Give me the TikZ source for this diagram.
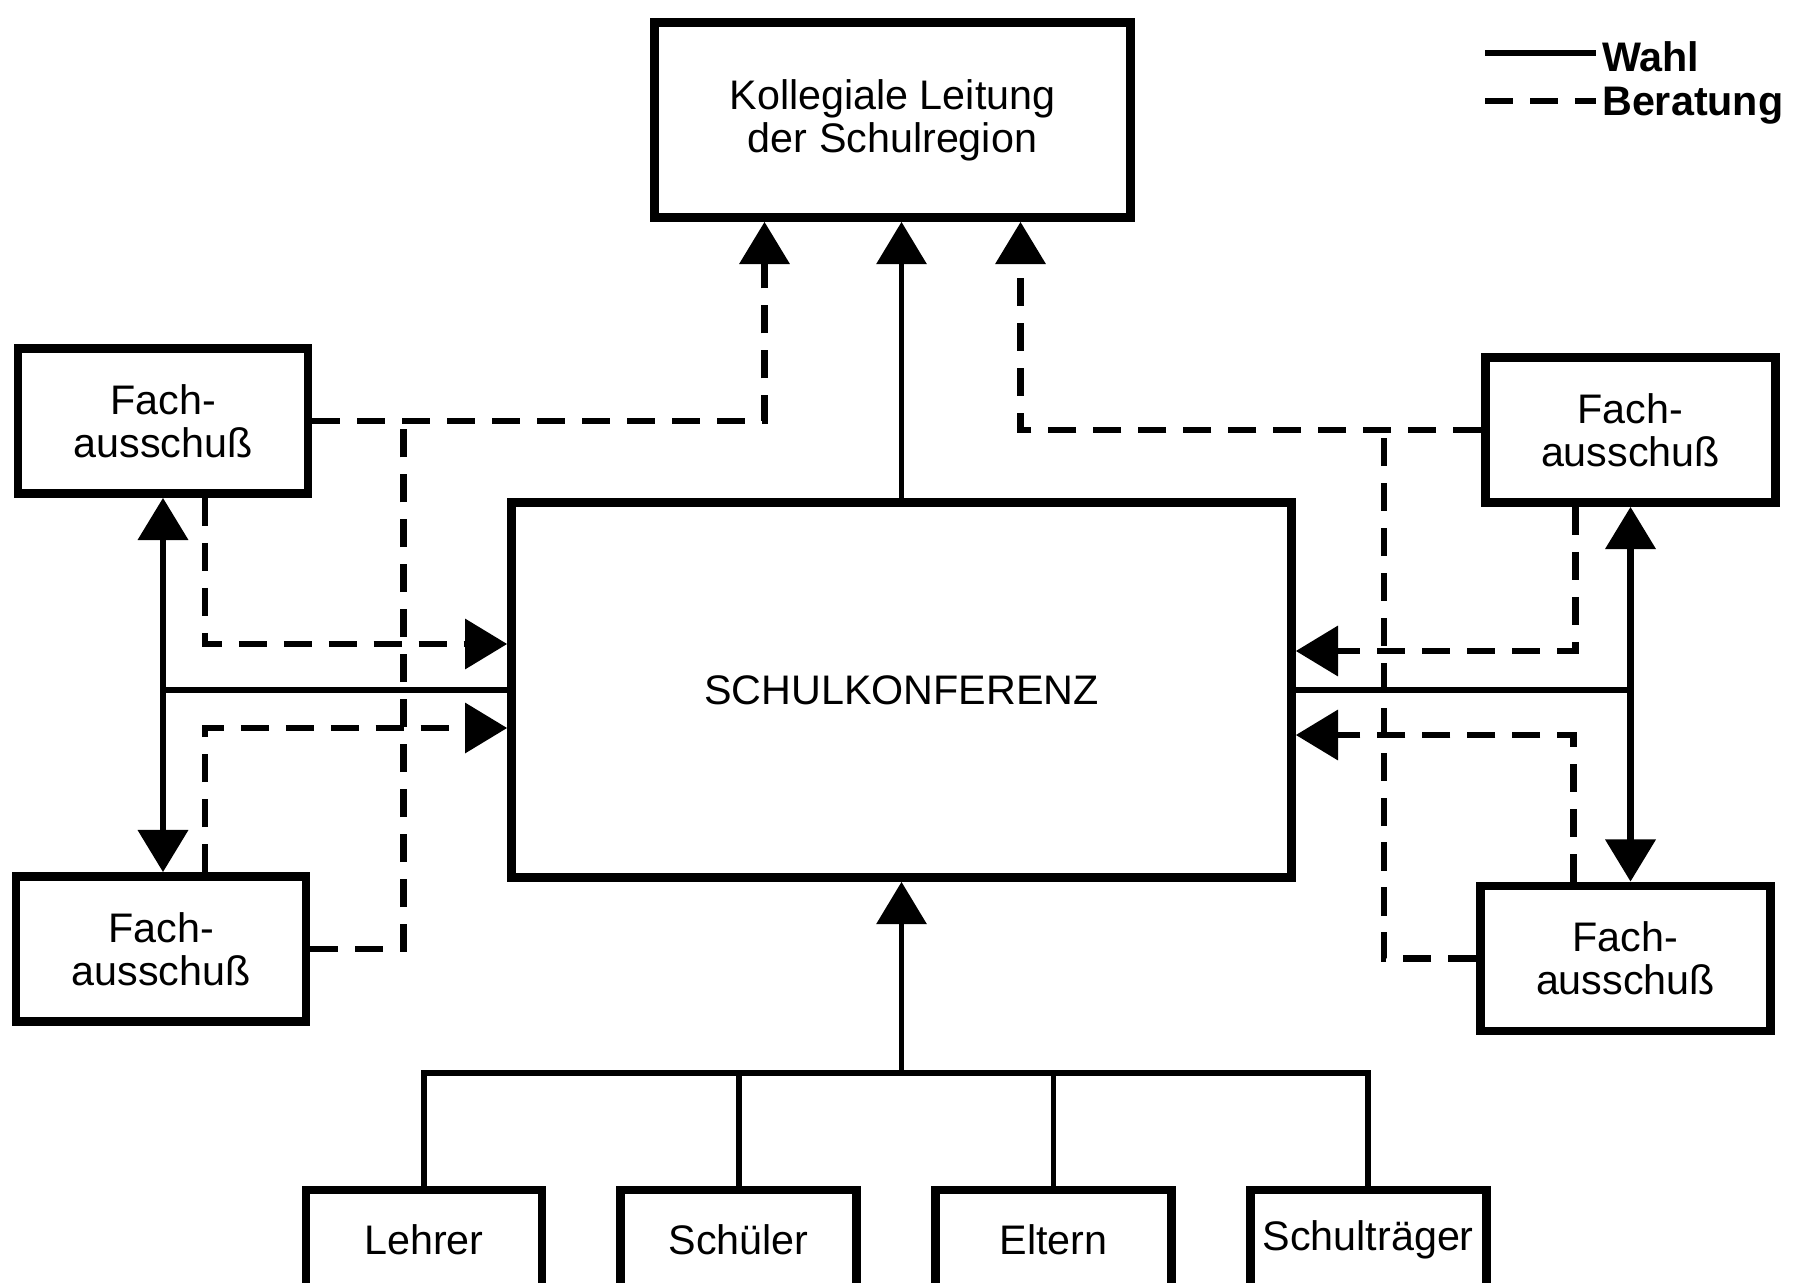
\documentclass[tikz,border=0pt]{standalone}
\usepackage{fontspec}
\setmainfont{Liberation Sans}
\usepackage{tikz}
\usetikzlibrary{arrows.meta, positioning, calc}
\definecolor{ink}{HTML}{000000}
\tikzset{
  % Organ boxes
  box/.style={
    rectangle, draw=ink, fill=white, line width=5pt,
    font=\fontsize{23.5}{24.5}\selectfont, align=center, inner sep=0pt,
  },
  fachbox/.style={box, minimum width=5.8cm, minimum height=2.9cm},
  groupbox/.style={box, minimum width=4.72cm, minimum height=2cm},
  % Election (solid)
  wahl/.style={line width=3.2pt, draw=ink},
  wahlarrow/.style={wahl, -{Triangle[length=24pt, width=28pt]}},
  wahlboth/.style={wahl, line width=3.8pt, {Triangle[length=24pt, width=28pt]}-{Triangle[length=24pt, width=28pt]}},
  % Consulting (dashed)
  beratung/.style={line width=3.6pt, draw=ink, dash pattern=on 16pt off 9.6pt},
  beratungarrow/.style={beratung, -{Triangle[length=24pt, width=28pt]}},
  % Legend
  legendtext/.style={font=\fontsize{23.5}{24.5}\selectfont\bfseries, anchor=west},
}

\begin{document}
\begin{tikzpicture}[x=0.02cm, y=-0.02cm]
  \path[use as bounding box, fill=white] (0,0) rectangle (1801,1283);

  % Regional board
  \node[box, minimum width=9.52cm, minimum height=3.9cm] (leitung) at (892.5,120)
    {Kollegiale Leitung\\der Schulregion};

  % School conference
  \node[box, minimum width=15.6cm, minimum height=7.5cm] (konferenz) at (901.5,690)
    {SCHULKONFERENZ};

  % Subject committees
  \node[fachbox] (fachTL) at (163,421) {Fach-\\ausschuß};
  \node[fachbox] (fachBL) at (161,949) {Fach-\\ausschuß};
  \node[fachbox] (fachTR) at (1630.5,430) {Fach-\\ausschuß};
  \node[fachbox] (fachBR) at (1625.5,958.5) {Fach-\\ausschuß};

  % Groups
  \node[groupbox] (lehrer) at (424,1240) {Lehrer};
  \node[groupbox, right=1.4cm of lehrer] (schueler) {Schüler};
  \node[groupbox, right=1.4cm of schueler] (eltern) {Eltern};
  \node[groupbox, right=1.4cm of eltern] (schultraeger) {Schulträger};

  % Legend
  \node[legendtext] (wahllbl) at (1596,57) {Wahl};
  \node[legendtext] (beratlbl) at (1596,106) {Beratung};
  \coordinate (wahlkey) at (1485,53);
  \coordinate (beratkey) at (1485,101);
  \draw[wahl, line width=3.8pt] (wahlkey) -- (wahlkey -| wahllbl.west);
  \draw[beratung, line width=3.8pt] (beratkey) -- (beratkey -| beratlbl.west);

  % Wahl: groups -> conference -> board
  \coordinate (bus) at ($(konferenz.south)+(0,191)$);
  \draw[wahl] (lehrer.north) |- (bus) -| (schultraeger.north);
  \draw[wahl] (schueler.north) -- (schueler.north |- bus);
  \draw[wahl] (eltern.north) -- (eltern.north |- bus);
  \draw[wahlarrow] (bus) -- (konferenz.south);
  \draw[wahlarrow] (konferenz.north) -- (konferenz.north |- leitung.south);

  % Wahl: conference <-> committees
  \draw[wahlboth] (fachTL.south) -- (fachTL.south |- fachBL.north);
  \draw[wahl] (fachTL.south |- konferenz.west) -- (konferenz.west);
  \draw[wahlboth] (fachTR.south) -- (fachTR.south |- fachBR.north);
  \draw[wahl] (fachTR.south |- konferenz.east) -- (konferenz.east);

  % Beratung: committees -> board
  \draw[beratungarrow] (fachTL.east) -| ($(leitung.south)+(-128,0)$);
  \draw[beratung] (fachBL.east) -| ($(fachTL.east)+(91,0)$);
  \draw[beratungarrow] (fachTR.west) -| ($(leitung.south)+(128,0)$);
  \draw[beratung] (fachBR.west) -| ($(fachTR.west)+(-97,0)$);

  % Beratung: committees -> conference
  \draw[beratungarrow] ($(fachTL.south)+(42,0)$) |- ($(konferenz.west)+(0,-46)$);
  \draw[beratungarrow] ($(fachBL.north)+(44,0)$) |- ($(konferenz.west)+(0,38)$);
  \draw[beratungarrow] ($(fachTR.south)+(-55,0)$) |- ($(konferenz.east)+(0,-39)$);
  \draw[beratungarrow] ($(fachBR.north)+(-52,0)$) |- ($(konferenz.east)+(0,45)$);

\end{tikzpicture}
\end{document}
